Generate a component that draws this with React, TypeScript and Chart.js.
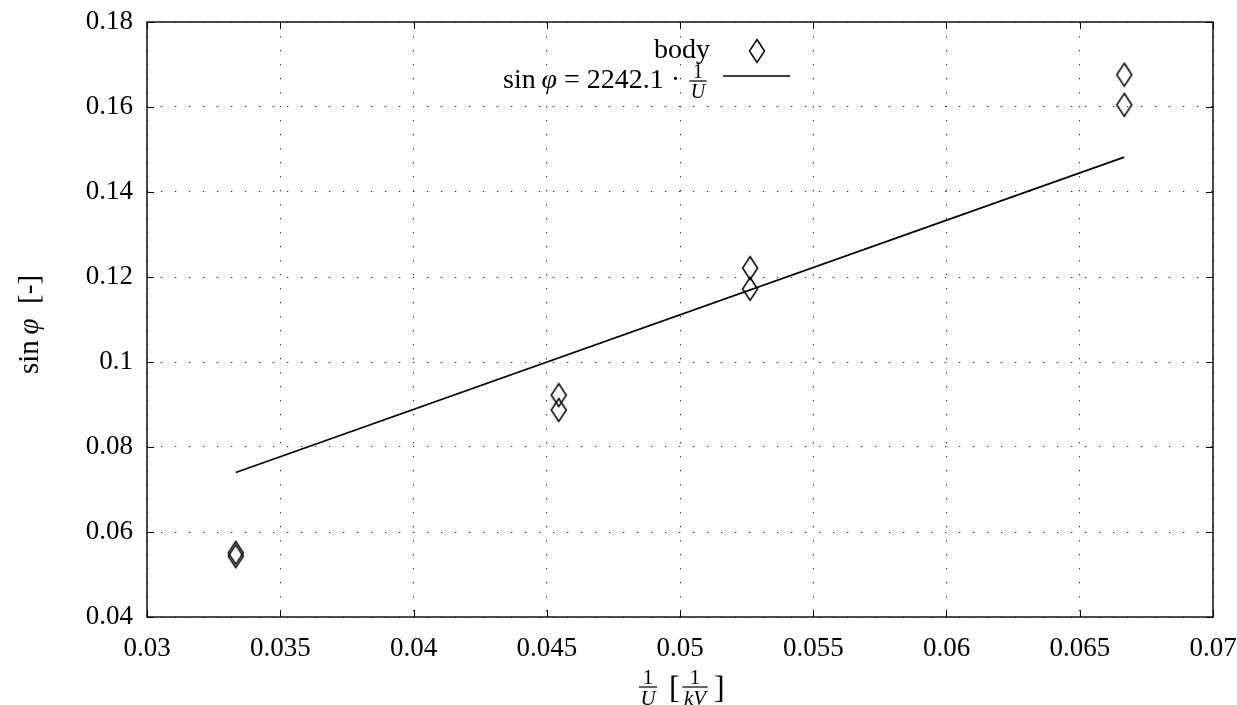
import React, { useEffect, useRef } from 'react';
import { Chart, registerables } from 'chart.js';
Chart.register(...registerables);

const measX = [0.03333, 0.03333, 0.04545, 0.04545, 0.05263, 0.05263, 0.06667, 0.06667];
const measY = [0.0551, 0.0543, 0.0922, 0.0887, 0.1221, 0.1172, 0.1676, 0.1605];
const fitX = [0.03333, 0.06667];
const fitY = [0.0740, 0.1482];
const xTicks = [0.03, 0.035, 0.04, 0.045, 0.05, 0.055, 0.06, 0.065, 0.07];
const yTicks = [0.04, 0.06, 0.08, 0.1, 0.12, 0.14, 0.16, 0.18];
const seriesLabels = ['body', 'fit'];

const SERIF = '"Liberation Serif", "DejaVu Serif", serif';

function makeDiamond(): HTMLCanvasElement {
  const c = document.createElement('canvas');
  c.width = 18;
  c.height = 26;
  const g = c.getContext('2d')!;
  g.strokeStyle = '#000';
  g.lineWidth = 1.5;
  g.beginPath();
  g.moveTo(9, 1.5);
  g.lineTo(16.5, 13);
  g.lineTo(9, 24.5);
  g.lineTo(1.5, 13);
  g.closePath();
  g.stroke();
  return c;
}

function drawFrac(ctx: CanvasRenderingContext2D, cx: number, barY: number, num: string, den: string, size: number, italicDen: boolean) {
  ctx.save();
  ctx.textAlign = 'center';
  ctx.font = `${size}px ${SERIF}`;
  const wn = ctx.measureText(num).width;
  ctx.font = `${italicDen ? 'italic ' : ''}${size}px ${SERIF}`;
  const wd = ctx.measureText(den).width;
  const w = Math.max(wn, wd) + 3;
  ctx.font = `${size}px ${SERIF}`;
  ctx.textBaseline = 'alphabetic';
  ctx.fillText(num, cx, barY - 3);
  ctx.font = `${italicDen ? 'italic ' : ''}${size}px ${SERIF}`;
  ctx.textBaseline = 'top';
  ctx.fillText(den, cx, barY + 2);
  ctx.fillRect(cx - w / 2, barY - 0.6, w, 1.2);
  ctx.restore();
  return w;
}

function makeDecorPlugin(dia: HTMLCanvasElement) {
  return {
    id: 'decor',
    afterDraw(chart: any) {
      const ctx: CanvasRenderingContext2D = chart.ctx;
      const { left, right, top, bottom } = chart.chartArea;
      const xs = chart.scales.x;
      const ys = chart.scales.y;
      ctx.save();
      ctx.strokeStyle = '#000';
      ctx.lineWidth = 1.4;
      ctx.strokeRect(left, top, right - left, bottom - top);
      ctx.lineWidth = 1;
      ctx.beginPath();
      for (const v of xTicks) {
        const px = Math.round(xs.getPixelForValue(v)) + 0.5;
        ctx.moveTo(px, bottom); ctx.lineTo(px, bottom - 7);
        ctx.moveTo(px, top); ctx.lineTo(px, top + 7);
      }
      for (const v of yTicks) {
        const py = Math.round(ys.getPixelForValue(v)) + 0.5;
        ctx.moveTo(left, py); ctx.lineTo(left + 7, py);
        ctx.moveTo(right, py); ctx.lineTo(right - 7, py);
      }
      ctx.stroke();

      ctx.fillStyle = '#000';
      // Y title
      ctx.save();
      ctx.translate(38, (top + bottom) / 2 + 5);
      ctx.rotate(-Math.PI / 2);
      ctx.textBaseline = 'alphabetic';
      ctx.font = `29px ${SERIF}`;
      const p1 = 'sin\u2009';
      const p2 = 'φ';
      const p3 = '  [-]';
      const w1 = ctx.measureText(p1).width;
      const w3 = ctx.measureText(p3).width;
      ctx.font = `italic 29px ${SERIF}`;
      const w2 = ctx.measureText(p2).width;
      const x0 = -(w1 + w2 + w3) / 2;
      ctx.textAlign = 'left';
      ctx.font = `29px ${SERIF}`;
      ctx.fillText(p1, x0, 0);
      ctx.font = `italic 29px ${SERIF}`;
      ctx.fillText(p2, x0 + w1, 0);
      ctx.font = `29px ${SERIF}`;
      ctx.fillText(p3, x0 + w1 + w2, 0);
      ctx.restore();

      // X title
      const cxm = (left + right) / 2;
      const barY = 687;
      drawFrac(ctx, cxm - 32, barY, '1', 'U', 21, true);
      ctx.font = `32px ${SERIF}`;
      ctx.textBaseline = 'alphabetic';
      ctx.textAlign = 'left';
      ctx.fillText('[', cxm - 11, barY + 11);
      drawFrac(ctx, cxm + 15, barY, '1', 'kV', 21, true);
      ctx.font = `32px ${SERIF}`;
      ctx.fillText(']', cxm + 34, barY + 11);

      // Legend
      ctx.textAlign = 'right';
      ctx.textBaseline = 'alphabetic';
      ctx.font = `28px ${SERIF}`;
      ctx.fillText(seriesLabels[0], 710, 58);
      ctx.drawImage(dia, 757 - dia.width / 2, 51 - dia.height / 2);

      const fracCx = 698;
      drawFrac(ctx, fracCx, 81, '1', 'U', 20, true);
      ctx.textAlign = 'left';
      ctx.textBaseline = 'alphabetic';
      ctx.font = `28px ${SERIF}`;
      const a = 'sin\u2009';
      const b = 'φ';
      const c = '\u2005=\u20052242.1\u2005·\u2005';
      const wa = ctx.measureText(a).width;
      const wc = ctx.measureText(c).width;
      ctx.font = `italic 28px ${SERIF}`;
      const wb = ctx.measureText(b).width;
      const endX = 687;
      const sx = endX - (wa + wb + wc);
      ctx.font = `28px ${SERIF}`;
      ctx.fillText(a, sx, 88);
      ctx.font = `italic 28px ${SERIF}`;
      ctx.fillText(b, sx + wa, 88);
      ctx.font = `28px ${SERIF}`;
      ctx.fillText(c, sx + wa + wb, 88);
      ctx.lineWidth = 1.6;
      ctx.beginPath();
      ctx.moveTo(723, 76);
      ctx.lineTo(790, 76);
      ctx.stroke();
      ctx.restore();
    },
  };
}

export default function App() {
  const ref = useRef<HTMLCanvasElement>(null);
  useEffect(() => {
    const diamond = makeDiamond();
    const fmt = (v: number) => String(parseFloat(Number(v).toFixed(4)));
    const chart: any = new Chart(ref.current!, {
      type: 'scatter',
      data: {
        datasets: [
          {
            label: seriesLabels[0],
            data: measX.map((x, i) => ({ x, y: measY[i] })),
            pointStyle: diamond as any,
            pointRadius: 10,
            showLine: false,
          },
          {
            label: seriesLabels[1],
            data: fitX.map((x, i) => ({ x, y: fitY[i] })),
            showLine: true,
            borderColor: '#000',
            borderWidth: 1.7,
            pointRadius: 0,
          },
        ],
      },
      options: {
        animation: false,
        responsive: false,
        maintainAspectRatio: false,
        layout: { padding: { top: 22, right: 24, left: 0, bottom: 0 } },
        plugins: { legend: { display: false }, tooltip: { enabled: false } },
        scales: {
          x: {
            type: 'linear',
            min: 0.03,
            max: 0.07,
            afterBuildTicks: (s: any) => { s.ticks = xTicks.map((v) => ({ value: v })); },
            afterFit: (s: any) => { s.height = 88; s.paddingLeft = 0; s.paddingRight = 0; },
            ticks: { callback: (v: any) => fmt(v), color: '#000', font: { family: SERIF, size: 27 }, padding: 16, maxRotation: 0, autoSkip: false },
            grid: { color: '#333', lineWidth: 1, drawTicks: false },
            border: { display: false, dash: [1.3, 12.7] },
          },
          y: {
            type: 'linear',
            min: 0.04,
            max: 0.18,
            afterBuildTicks: (s: any) => { s.ticks = yTicks.map((v) => ({ value: v })); },
            afterFit: (s: any) => { s.width = 147; s.paddingTop = 0; s.paddingBottom = 0; },
            ticks: { callback: (v: any) => fmt(v), color: '#000', font: { family: SERIF, size: 27 }, padding: 14, autoSkip: false },
            grid: { color: '#333', lineWidth: 1, drawTicks: false },
            border: { display: false, dash: [1.3, 12.7] },
          },
        },
      },
      plugins: [makeDecorPlugin(diamond)],
    } as any);
    return () => chart.destroy();
  }, []);
  return (
    <div style={{ position: 'absolute', left: 0, top: 0, width: 1237, height: 705, background: '#fff' }}>
      <canvas ref={ref} width={1237} height={705} style={{ width: 1237, height: 705, display: 'block' }} />
    </div>
  );
}
